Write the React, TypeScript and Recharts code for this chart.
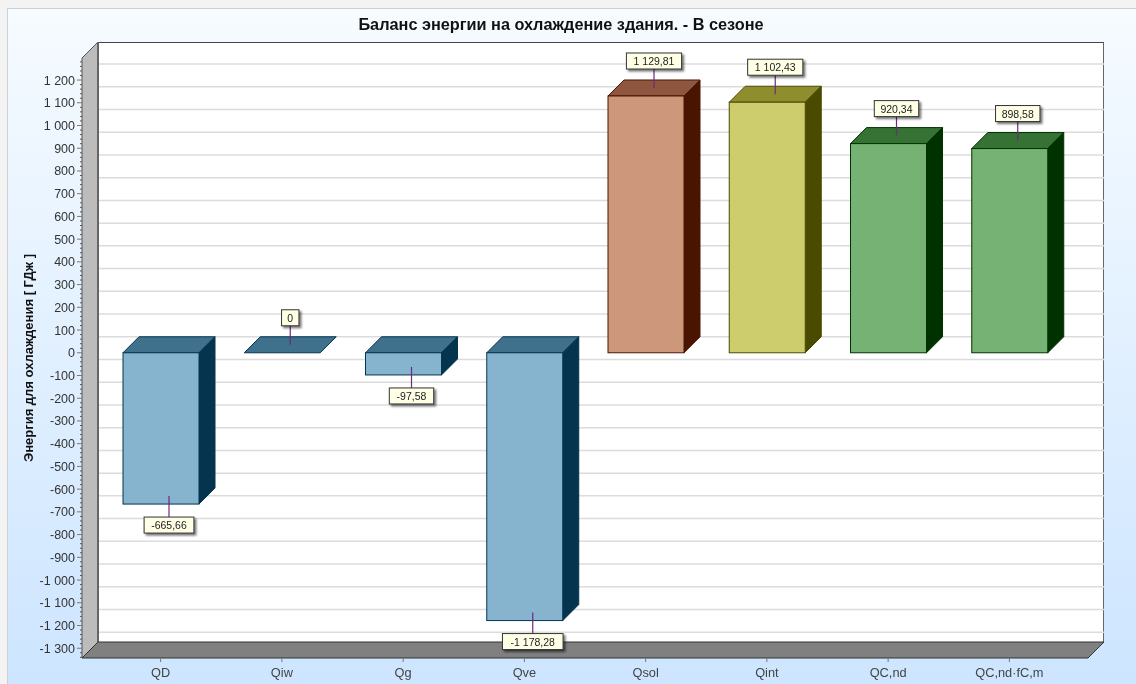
import { Bar, BarChart, CartesianGrid, LabelList, XAxis, YAxis } from "recharts";

const categories = ["QD", "Qiw", "Qg", "Qve", "Qsol", "Qint", "QC,nd", "QC,nd·fC,m"];
const energy = [-665.66, 0, -97.58, -1178.28, 1129.81, 1102.43, 920.34, 898.58];
const yTicks = [
  -1300, -1200, -1100, -1000, -900, -800, -700, -600, -500, -400, -300, -200, -100, 0, 100, 200, 300, 400, 500, 600,
  700, 800, 900, 1000, 1100, 1200,
];
// every small notch on the axis, labelled ones included
const allTicks = Array.from({ length: 132 }, (_, i) => -1340 + i * 20);

const data = categories.map((name, i) => ({ name, energy: energy[i] }));

const W = 1136;
const H = 684;
const DEPTH = 16;
const PLOT = { left: 82, right: 1088, top: 58, bottom: 658 };
const Y_DOMAIN = [-1343, 1297];

// front, top, side per bar
const blue = ["#86b4ce", "#3f708c", "#05344f"];
const salmon = ["#cd977c", "#8e563e", "#4a1500"];
const yellow = ["#cdcd6d", "#8e8e2e", "#4a4a00"];
const green = ["#76b273", "#357233", "#003200"];
const barColors = [blue, blue, blue, blue, salmon, yellow, green, green];

const font = "'Liberation Sans', Arial, sans-serif";

function fmt(v: number, digits = 0) {
  const [int, dec] = Math.abs(v).toFixed(digits).split(".");
  const grouped = int.replace(/\B(?=(\d{3})+$)/g, " ");
  return (v < 0 ? "-" : "") + grouped + (dec && v !== 0 ? "," + dec : "");
}

function Walls() {
  const { left, right, top, bottom } = PLOT;
  const d = DEPTH;
  return (
    <g>
      <defs>
        <filter id="labelShadow" x="-30%" y="-50%" width="170%" height="220%">
          <feDropShadow dx="2" dy="2" stdDeviation="1.2" floodColor="#000" floodOpacity="0.55" />
        </filter>
      </defs>
      <polygon
        points={`${left},${top} ${left + d},${top - d} ${left + d},${bottom - d} ${left},${bottom}`}
        fill="#bcbcbc"
        stroke="#555"
      />
      <line x1={left + d} y1={top - d} x2={left + d} y2={bottom - d} stroke="#666" strokeWidth={2} />
      <polygon
        points={`${left},${bottom} ${left + d},${bottom - d} ${right + d},${bottom - d} ${right},${bottom}`}
        fill="#808080"
        stroke="#333"
      />
    </g>
  );
}

function Cuboid(props: any) {
  const { x, y, width, height, index } = props;
  const [front, topFace, side] = barColors[index];
  const t = Math.min(y, y + height);
  const h = Math.abs(height);
  const d = DEPTH;
  return (
    <g stroke={side} strokeWidth={1}>
      <polygon points={`${x},${t} ${x + d},${t - d} ${x + width + d},${t - d} ${x + width},${t}`} fill={topFace} />
      {h > 0 && (
        <polygon
          points={`${x + width},${t} ${x + width + d},${t - d} ${x + width + d},${t + h - d} ${x + width},${t + h}`}
          fill={side}
        />
      )}
      {h > 0 && <rect x={x} y={t} width={width} height={h} fill={front} />}
    </g>
  );
}

function ValueTag(props: any) {
  const box = props.viewBox ?? props;
  const { x, y, width, height } = box;
  const value = energy[props.index];
  const t = Math.min(y, y + height);
  const b = Math.max(y, y + height);
  const cx = x + width / 2 + DEPTH / 2;
  const negative = value < 0;
  const anchor = (negative ? b : t) - DEPTH / 2;
  const stemEnd = negative ? anchor + 21 : anchor - 19;
  const text = fmt(value, 2);
  const w = text.length * 5.4 + 12;
  const boxH = 16;
  const boxY = negative ? stemEnd : stemEnd - boxH;
  return (
    <g>
      <line x1={cx} y1={anchor} x2={cx} y2={stemEnd} stroke="#6e2a7c" strokeWidth={1.2} />
      <rect
        x={cx - w / 2}
        y={boxY}
        width={w}
        height={boxH}
        fill="#ffffe6"
        stroke="#333"
        strokeWidth={1}
        filter="url(#labelShadow)"
      />
      <text x={cx} y={boxY + 12} textAnchor="middle" fontFamily={font} fontSize={10.5} fill="#222">
        {text}
      </text>
    </g>
  );
}

function BackGridLine(props: any) {
  const { x1, x2, y1, y2, index } = props;
  if (!yTicks.includes(allTicks[index])) return <g />;
  return <line x1={x1 + DEPTH} x2={x2 + DEPTH} y1={y1 - DEPTH} y2={y2 - DEPTH} stroke="#dcdcdc" strokeWidth={1.5} />;
}

function YTick(props: any) {
  const { x, y, payload } = props;
  const major = yTicks.includes(payload.value);
  return (
    <g>
      <line x1={x - (major ? 5 : 2)} x2={x} y1={y} y2={y} stroke={major ? "#777" : "#555"} />
      {major && (
        <text x={x - 7} y={y + 4.5} textAnchor="end" fontFamily={font} fontSize={12.5} fill="#333">
          {fmt(payload.value)}
        </text>
      )}
    </g>
  );
}

export default function App() {
  return (
    <div
      style={{
        position: "fixed",
        left: 0,
        top: 0,
        width: W,
        height: H,
        background: "#f3f3f3",
        overflow: "hidden",
        filter: "blur(0.4px)",
      }}
    >
      <div
        style={{
          position: "absolute",
          left: 7,
          top: 8,
          width: W - 7,
          height: H - 8,
          boxSizing: "border-box",
          borderLeft: "1px solid #cfcfcf",
          borderTop: "1px solid #cfcfcf",
          background: "linear-gradient(#f6fbff, #cde5ff)",
        }}
      />
      {/* back wall sits under the svg so the grid stays visible on it */}
      <div
        style={{
          position: "absolute",
          left: PLOT.left + DEPTH,
          top: PLOT.top - DEPTH,
          width: PLOT.right - PLOT.left,
          height: PLOT.bottom - PLOT.top,
          boxSizing: "border-box",
          background: "#fff",
          borderTop: "1.5px solid #444",
          borderRight: "1.5px solid #666",
        }}
      />
      <div style={{ position: "absolute", left: 0, top: 0 }}>
        <BarChart
          width={W}
          height={H}
          data={data}
          barSize={76}
          margin={{ top: PLOT.top, right: W - PLOT.right, bottom: 0, left: 0 }}
        >
          <CartesianGrid vertical={false} horizontal={<BackGridLine />} />
          <Walls />
          <XAxis
            dataKey="name"
            height={H - PLOT.bottom}
            padding={{ left: 18, right: 18 }}
            interval={0}
            axisLine={false}
            tickLine={{ stroke: "#777" }}
            tickSize={4}
            tickMargin={6}
            tick={{ fontFamily: font, fontSize: 12.8, fill: "#444" }}
          />
          <YAxis
            width={PLOT.left}
            domain={Y_DOMAIN}
            ticks={allTicks}
            interval={0}
            axisLine={false}
            tickLine={false}
            tickSize={0}
            tickMargin={0}
            tick={<YTick />}
            label={{
              value: "Энергия для охлаждения [ ГДж ]",
              angle: -90,
              position: "insideLeft",
              offset: 28,
              style: { fontFamily: font, fontSize: 13, fontWeight: "bold", fill: "#111", textAnchor: "middle" },
            }}
          />
          <Bar dataKey="energy" shape={<Cuboid />} isAnimationActive={false}>
            <LabelList dataKey="energy" content={<ValueTag />} />
          </Bar>
          <text
            x={561}
            y={30}
            textAnchor="middle"
            fontFamily={font}
            fontSize={16.3}
            fontWeight="bold"
            fill="#111"
          >
            Баланс энергии на охлаждение здания. - В сезоне
          </text>
        </BarChart>
      </div>
    </div>
  );
}
